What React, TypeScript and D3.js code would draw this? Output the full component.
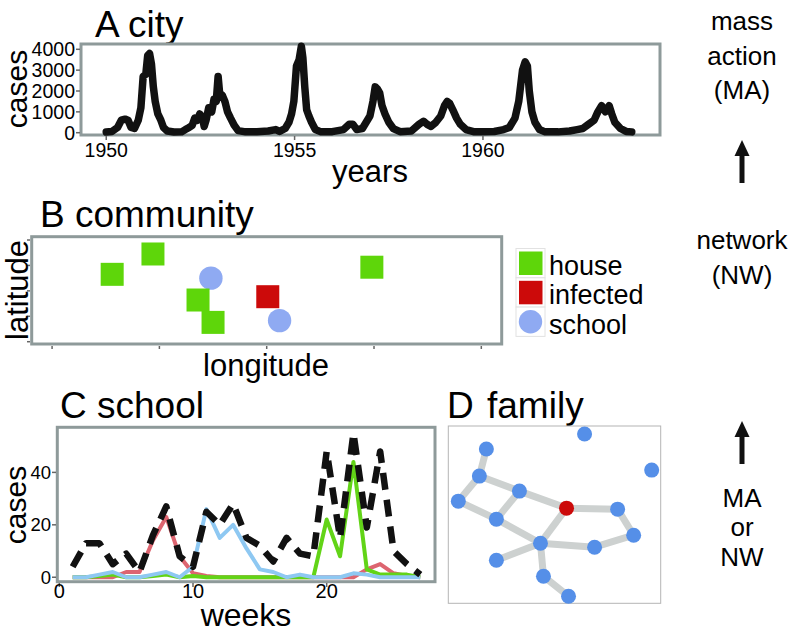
import React from "react";
import * as d3 from "d3";

// A: city time series (year, cases)
const cityYears = [
  1950.0, 1950.15, 1950.3, 1950.4, 1950.5, 1950.58, 1950.66, 1950.75, 1950.85, 1950.92,
  1950.98, 1951.05, 1951.1, 1951.15, 1951.2, 1951.25, 1951.3, 1951.37, 1951.45, 1951.52,
  1951.62, 1951.8, 1952.0, 1952.1, 1952.2, 1952.28, 1952.35, 1952.42, 1952.48, 1952.55,
  1952.6, 1952.65, 1952.72, 1952.8, 1952.86, 1952.92, 1952.97, 1953.02, 1953.08, 1953.15,
  1953.22, 1953.3, 1953.4, 1953.5, 1953.7, 1954.0, 1954.3, 1954.5, 1954.6, 1954.75,
  1954.85, 1954.92, 1954.98, 1955.05, 1955.12, 1955.18, 1955.22, 1955.27, 1955.32, 1955.38,
  1955.45, 1955.55, 1955.7, 1956.0, 1956.3, 1956.45, 1956.55, 1956.65, 1956.8, 1956.9,
  1957.0, 1957.08, 1957.14, 1957.2, 1957.26, 1957.32, 1957.4, 1957.5, 1957.62, 1957.8,
  1958.1, 1958.3, 1958.42, 1958.52, 1958.62, 1958.75, 1958.88, 1958.98, 1959.05, 1959.12,
  1959.2, 1959.3, 1959.4, 1959.55, 1959.75, 1960.0, 1960.3, 1960.55, 1960.7, 1960.85,
  1960.95, 1961.05, 1961.12, 1961.18, 1961.23, 1961.3, 1961.38, 1961.5, 1961.65, 1962.0,
  1962.3, 1962.5, 1962.65, 1962.8, 1962.95, 1963.05, 1963.15, 1963.25, 1963.35, 1963.42,
  1963.5, 1963.65, 1963.8, 1963.95,
];
const cityCases = [
  30, 60, 250, 600, 650, 600, 250, 200, 600, 1200,
  2700, 2800, 3700, 3800, 3300, 2200, 1500, 900, 600, 250,
  80, 30, 40, 150, 250, 350, 700, 600, 900, 750,
  300, 600, 1200, 1000, 1600, 1500, 2700, 1700, 1800, 1500,
  1000, 700, 350, 100, 40, 50, 80, 150, 60, 200,
  500, 900, 1500, 3200, 3500, 4150, 3600, 2200, 1100, 800,
  500, 150, 40, 50, 150, 400, 400, 150, 200, 500,
  800, 1500, 2200, 2100, 1900, 1300, 900, 500, 200, 50,
  80, 400, 550, 400, 300, 500, 800, 1300, 1500, 1400,
  1100, 700, 400, 150, 50, 40, 60, 150, 250, 700,
  1500, 3000, 3400, 3200, 2000, 1000, 500, 150, 40, 40,
  80, 150, 200, 400, 600, 1000, 1300, 1000, 1300, 900,
  500, 200, 60, 40,
];
const cityYearTicks = [1950, 1955, 1960];
const cityCaseTicks = [0, 1000, 2000, 3000, 4000];

// B: community map
const placeType = ["house", "house", "school", "house", "house", "infected", "school", "house"];
const placeLon = [0.56, 0.94, 1.48, 1.36, 1.5, 2.01, 2.12, 2.98];
const placeLat = [2.65, 3.45, 2.5, 1.64, 0.76, 1.77, 0.83, 2.93];
const legendLabels = ["house", "infected", "school"];
const mapTicks = [0, 1, 2, 3, 4];

// C: school weekly cases
const weeks = d3.range(1, 28);
const totalCases = [4, 13, 13, 5, 9, 2, 16, 27, 8, 4, 25, 20, 28, 15, 12, 6, 15, 9, 8, 48, 15, 55, 19, 48, 10, 5, 1];
const redCases = [0, 0, 0, 0, 2, 2, 14, 23, 8, 1.5, 0.5, 0, 0, 0, 0, 0, 0, 0, 0, 0, 0, 0, 3, 5, 1.5, 0.5, 0];
const greenCases = [0, 0, 0.5, 1, 0, 0, 0.5, 1, 0, 0.5, 0, 0, 0, 0, 0, 0, 0, 0, 0, 22, 8, 44, 3, 1, 1, 1, 0];
const blueCases = [0, 0, 1, 2, 0, 0, 1, 2, 0, 4, 26, 15, 20, 11, 3, 2, 0, 1, 0, 0, 0, 1.5, 1, 0, 0, 0, 0];
const weekTicks = [0, 10, 20];
const schoolCaseTicks = [0, 20, 40];

// D: family network (layout coordinates)
const nodeX = [136, 38, 203, 31, 71, 10, 118, 169, 48, 185, 92, 146, 48, 95, 120];
const nodeY = [8, 23, 44, 50, 65, 75, 82, 83, 93, 109, 117, 121, 134, 150, 170];
const nodeInfected = [0, 0, 0, 0, 0, 0, 1, 0, 0, 0, 0, 0, 0, 0, 0];
const edgeFrom = [1, 3, 3, 4, 4, 5, 8, 6, 6, 7, 9, 10, 10, 10, 13];
const edgeTo = [3, 4, 5, 6, 8, 8, 10, 10, 7, 9, 11, 11, 12, 13, 14];

const FONT = "Liberation Sans, Arial, Helvetica, sans-serif";
const BORDER = "#8e9a9a";
const TICK = "#666";
const GREEN = "#5ed60a";
const RED = "#cc0a0a";
const PERI = "#8faaf2";

const Arrow = ({ x, y0, y1 }: { x: number; y0: number; y1: number }) => (
  <g>
    <line x1={x} x2={x} y1={y0} y2={y1 + 12} stroke="#111" strokeWidth={5} />
    <path d={`M${x - 7.5},${y1 + 16} L${x},${y1} L${x + 7.5},${y1 + 16} Z`} fill="#111" />
  </g>
);

export default function App() {
  // panel A
  const xA = d3.scaleLinear().domain([1949.33, 1964.7]).range([81, 660]);
  const yA = d3.scaleLinear().domain([-110, 4254]).range([135, 44]);
  const cityLine = d3
    .line<number>()
    .x((d, i) => xA(cityYears[i]))
    .y((d) => yA(d))(cityCases);

  // panel B
  const xB = d3.scaleLinear().domain([-0.19, 4.19]).range([31.7, 501.7]);
  const yB = d3.scaleLinear().domain([-0.09, 4.13]).range([344, 236.7]);
  const color = d3.scaleOrdinal<string>().domain(legendLabels).range([GREEN, RED, PERI]);
  const sq = 23;

  // panel C
  const xC = d3.scaleLinear().domain([-0.15, 28.1]).range([57.3, 435]);
  const yC = d3.scaleLinear().domain([-1.7, 57.2]).range([581.7, 427.3]);
  const weekLine = (vals: number[]) =>
    d3
      .line<number>()
      .x((d, i) => xC(weeks[i]))
      .y((d) => yC(d))(vals) as string;

  // panel D
  const xD = d3.scaleLinear().domain([0, 212]).range([448.3, 660.7]);
  const yD = d3.scaleLinear().domain([0, 177]).range([426, 603.3]);

  return (
    <svg
      width={796}
      height={633}
      style={{ position: "absolute", left: 0, top: 0, background: "#fff" }}
      fontFamily={FONT}
    >
      {/* ---------- A city ---------- */}
      <text x={95} y={36.7} fontSize={37}>A city</text>
      <rect x={81} y={44} width={579} height={91} fill="#fff" stroke={BORDER} strokeWidth={3} />
      <path d={cityLine as string} fill="none" stroke="#111" strokeWidth={7.5} strokeLinejoin="round" strokeLinecap="round" />
      {cityCaseTicks.map((t) => (
        <g key={t}>
          <line x1={76} x2={80} y1={yA(t)} y2={yA(t)} stroke={TICK} strokeWidth={1.5} />
          <text x={75} y={yA(t)} fontSize={19.5} textAnchor="end" dominantBaseline="central">{t}</text>
        </g>
      ))}
      {cityYearTicks.map((t) => (
        <g key={t}>
          <line x1={xA(t)} x2={xA(t)} y1={136} y2={140} stroke={TICK} strokeWidth={1.5} />
          <text x={xA(t)} y={157} fontSize={19.5} textAnchor="middle">{t}</text>
        </g>
      ))}
      <text transform="translate(27,89) rotate(-90)" fontSize={30} textAnchor="middle">cases</text>
      <text x={370} y={182} fontSize={31} textAnchor="middle">years</text>

      {/* ---------- B community ---------- */}
      <text x={40} y={226.7} fontSize={37}>B community</text>
      <rect x={31.7} y={236.7} width={470} height={107.3} fill="#fff" stroke={BORDER} strokeWidth={3} />
      {mapTicks.map((t) => (
        <g key={t}>
          <line x1={27} x2={30} y1={yB(t)} y2={yB(t)} stroke={TICK} strokeWidth={1.5} />
          <line x1={xB(t)} x2={xB(t)} y1={346} y2={349} stroke={TICK} strokeWidth={1.5} />
        </g>
      ))}
      {placeType.map((p, i) =>
        p === "school" ? (
          <circle key={i} cx={xB(placeLon[i])} cy={yB(placeLat[i])} r={11.7} fill={color(p)} />
        ) : (
          <rect key={i} x={xB(placeLon[i]) - sq / 2} y={yB(placeLat[i]) - sq / 2} width={sq} height={sq} fill={color(p)} />
        )
      )}
      <text transform="translate(28,290) rotate(-90)" fontSize={31} textAnchor="middle">latitude</text>
      <text x={266} y={376} fontSize={31} textAnchor="middle">longitude</text>
      {legendLabels.map((l, i) => {
        const top = 248.5 + i * 29.3;
        return (
          <g key={l}>
            <rect x={516} y={top} width={29} height={29.3} fill="#fff" stroke="#e2e2e2" strokeWidth={1} />
            {l === "school" ? (
              <circle cx={530.5} cy={top + 14.6} r={11.7} fill={color(l)} />
            ) : (
              <rect x={519} y={top + 3} width={23.5} height={23.5} fill={color(l)} />
            )}
            <text x={549} y={top + 26.5} fontSize={27}>{l}</text>
          </g>
        );
      })}

      {/* ---------- C school ---------- */}
      <text x={60} y={418} fontSize={37}>C school</text>
      <rect x={57.3} y={427.3} width={377.7} height={154.4} fill="#fff" stroke={BORDER} strokeWidth={3} />
      <path d={weekLine(redCases)} fill="none" stroke="#dd6570" strokeWidth={4} strokeLinejoin="round" />
      <path d={weekLine(greenCases)} fill="none" stroke="#62d417" strokeWidth={4} strokeLinejoin="round" />
      <path d={weekLine(blueCases)} fill="none" stroke="#8ec8f2" strokeWidth={4} strokeLinejoin="round" />
      <path d={weekLine(totalCases)} fill="none" stroke="#111" strokeWidth={6.5} strokeDasharray="17,10" strokeLinejoin="round" />
      {schoolCaseTicks.map((t) => (
        <g key={t}>
          <line x1={52} x2={56} y1={yC(t)} y2={yC(t)} stroke={TICK} strokeWidth={1.5} />
          <text x={51} y={yC(t)} fontSize={18.5} textAnchor="end" dominantBaseline="central">{t}</text>
        </g>
      ))}
      {weekTicks.map((t) => (
        <g key={t}>
          <line x1={xC(t)} x2={xC(t)} y1={583} y2={587} stroke={TICK} strokeWidth={1.5} />
          <text x={xC(t)} y={598} fontSize={20} textAnchor="middle">{t}</text>
        </g>
      ))}
      <text transform="translate(25.5,505) rotate(-90)" fontSize={30} textAnchor="middle">cases</text>
      <text x={246} y={626} fontSize={32} textAnchor="middle">weeks</text>

      {/* ---------- D family ---------- */}
      <text x={447} y={418} fontSize={37}>D<tspan dx={3}> family</tspan></text>
      <rect x={448.3} y={426} width={212.4} height={177.3} fill="#fff" stroke="#b4b4b4" strokeWidth={1} />
      {edgeFrom.map((a, i) => (
        <line
          key={i}
          x1={xD(nodeX[a])}
          y1={yD(nodeY[a])}
          x2={xD(nodeX[edgeTo[i]])}
          y2={yD(nodeY[edgeTo[i]])}
          stroke="#cdd1d0"
          strokeWidth={7}
        />
      ))}
      {nodeX.map((x, i) => (
        <circle key={i} cx={xD(x)} cy={yD(nodeY[i])} r={7.5} fill={nodeInfected[i] ? RED : "#558fe8"} />
      ))}

      {/* ---------- right column ---------- */}
      <g fontSize={26} textAnchor="middle">
        <text x={742} y={30}>mass</text>
        <text x={742} y={65}>action</text>
        <text x={742} y={99}>(MA)</text>
        <text x={742} y={249}>network</text>
        <text x={742} y={284}>(NW)</text>
        <text x={742} y={507}>MA</text>
        <text x={742} y={536}>or</text>
        <text x={742} y={566}>NW</text>
      </g>
      <Arrow x={742} y0={183} y1={140} />
      <Arrow x={742} y0={464} y1={421} />
    </svg>
  );
}
